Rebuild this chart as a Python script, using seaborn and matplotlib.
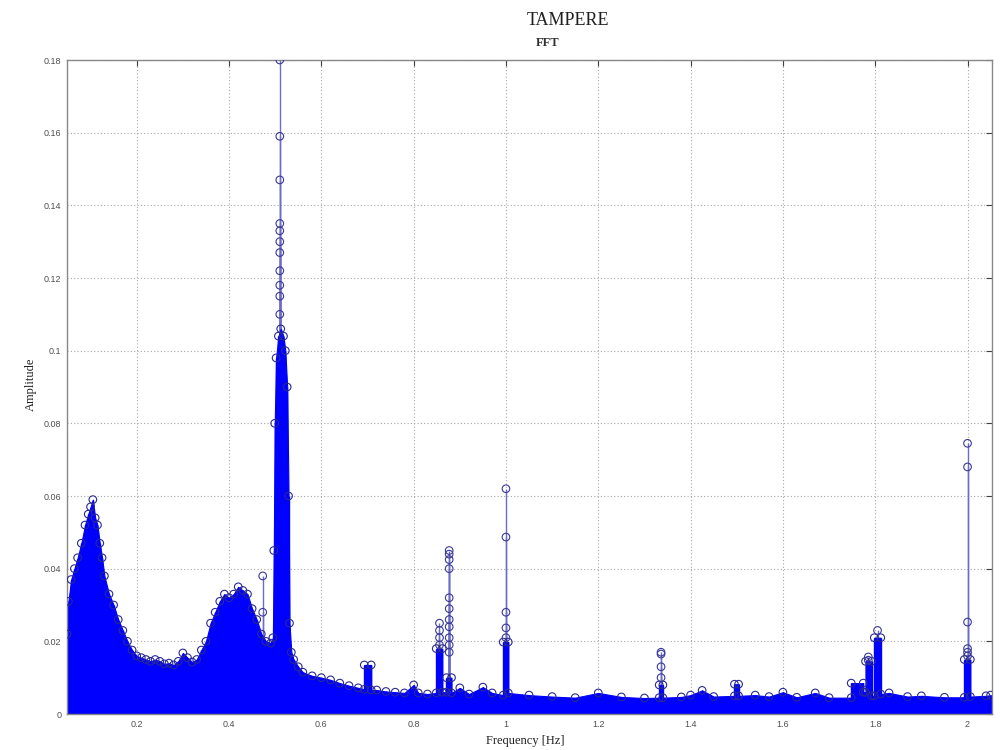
import matplotlib
matplotlib.use("Agg")
import matplotlib.pyplot as plt
import seaborn as sns
import pandas as pd

# ---- data (envelope of the dense FFT spectrum) ----
env_freq = [0.049, 0.052, 0.058, 0.065, 0.072, 0.080, 0.088, 0.095, 0.100, 0.105,
            0.110, 0.115, 0.120, 0.125, 0.130, 0.140, 0.150, 0.160, 0.170, 0.180,
            0.190, 0.200, 0.210, 0.220, 0.230, 0.240, 0.250, 0.260, 0.270, 0.280,
            0.290, 0.300, 0.310, 0.320, 0.330, 0.340, 0.350, 0.360, 0.370, 0.380,
            0.390, 0.400, 0.410, 0.420, 0.430, 0.440, 0.450, 0.460, 0.470, 0.480,
            0.490, 0.495, 0.497, 0.499, 0.502, 0.507, 0.512, 0.518, 0.522, 0.526,
            0.529, 0.531, 0.535, 0.540, 0.550, 0.560, 0.580, 0.600, 0.620, 0.640,
            0.660, 0.680, 0.693, 0.693, 0.708, 0.708, 0.720, 0.740, 0.760, 0.780,
            0.800, 0.810, 0.830, 0.849, 0.849, 0.862, 0.862, 0.871, 0.871, 0.882,
            0.882, 0.900, 0.920, 0.950, 0.970, 0.994, 0.994, 1.005, 1.005, 1.050,
            1.100, 1.150, 1.200, 1.250, 1.300, 1.332, 1.332, 1.340, 1.340, 1.380,
            1.400, 1.425, 1.450, 1.495, 1.495, 1.504, 1.504, 1.540, 1.570, 1.600,
            1.630, 1.670, 1.700, 1.748, 1.748, 1.774, 1.774, 1.779, 1.779, 1.792,
            1.792, 1.798, 1.798, 1.812, 1.812, 1.830, 1.870, 1.900, 1.950, 1.993,
            1.993, 2.006, 2.006, 2.040, 2.050]
env_amp = [0.022, 0.031, 0.037, 0.040, 0.043, 0.047, 0.052, 0.055, 0.057, 0.059,
           0.054, 0.052, 0.047, 0.043, 0.038, 0.033, 0.030, 0.026, 0.023, 0.020,
           0.0176, 0.016, 0.0155, 0.015, 0.0145, 0.015, 0.0145, 0.0138, 0.014, 0.0135,
           0.0145, 0.0168, 0.0155, 0.0143, 0.015, 0.0176, 0.020, 0.025, 0.028, 0.031,
           0.033, 0.032, 0.033, 0.035, 0.034, 0.033, 0.029, 0.026, 0.022, 0.020,
           0.0195, 0.021, 0.045, 0.080, 0.098, 0.104, 0.106, 0.104, 0.100, 0.090,
           0.060, 0.025, 0.017, 0.015, 0.013, 0.0115, 0.0105, 0.010, 0.0094, 0.0085,
           0.0078, 0.0072, 0.0068, 0.0135, 0.0135, 0.0066, 0.0066, 0.0062, 0.006, 0.0058,
           0.008, 0.0058, 0.0055, 0.0058, 0.018, 0.018, 0.006, 0.006, 0.010, 0.010,
           0.0058, 0.0072, 0.0055, 0.0074, 0.0058, 0.0052, 0.0198, 0.0198, 0.0058, 0.0052,
           0.0048, 0.0045, 0.0058, 0.0047, 0.0044, 0.0045, 0.008, 0.008, 0.0045, 0.0047,
           0.0052, 0.0065, 0.0048, 0.005, 0.0082, 0.0082, 0.005, 0.0052, 0.0048, 0.006,
           0.0046, 0.0058, 0.0045, 0.0045, 0.0085, 0.0085, 0.006, 0.006, 0.0145, 0.0145,
           0.005, 0.005, 0.021, 0.021, 0.0055, 0.0058, 0.0048, 0.005, 0.0046, 0.0046,
           0.015, 0.015, 0.0048, 0.005, 0.0052]

# isolated tall stems (circles stacked on single spectral lines)
spike_freq = [0.473, 0.473,
              0.510, 0.510, 0.510, 0.510, 0.510, 0.510, 0.510, 0.510, 0.510, 0.510, 0.510,
              0.856, 0.856, 0.856, 0.856,
              0.877, 0.877, 0.877, 0.877, 0.877, 0.877, 0.877, 0.877, 0.877, 0.877, 0.877,
              1.000, 1.000, 1.000, 1.000, 1.000,
              1.336, 1.336, 1.336, 1.336,
              1.785, 1.785, 1.805,
              2.000, 2.000, 2.000, 2.000, 2.000, 2.000]
spike_amp = [0.038, 0.028,
             0.180, 0.159, 0.147, 0.135, 0.133, 0.130, 0.127, 0.122, 0.118, 0.115, 0.110,
             0.025, 0.023, 0.021, 0.019,
             0.045, 0.044, 0.0425, 0.040, 0.032, 0.029, 0.026, 0.024, 0.021, 0.019, 0.017,
             0.062, 0.0487, 0.028, 0.0237, 0.021,
             0.017, 0.0165, 0.013, 0.010,
             0.0157, 0.0148, 0.023,
             0.0745, 0.068, 0.0253, 0.018, 0.017, 0.016]

x_ticks = [0.2, 0.4, 0.6, 0.8, 1.0, 1.2, 1.4, 1.6, 1.8, 2.0]
x_tick_labels = ["0.2", "0.4", "0.6", "0.8", "1", "1.2", "1.4", "1.6", "1.8", "2"]
y_ticks = [0, 0.02, 0.04, 0.06, 0.08, 0.10, 0.12, 0.14, 0.16, 0.18]
y_tick_labels = ["0", "0.02", "0.04", "0.06", "0.08", "0.1", "0.12", "0.14", "0.16", "0.18"]

title = "TAMPERE"
subtitle = "FFT"
x_label = "Frequency [Hz]"
y_label = "Amplitude"

# ---- drawing ----
sns.set_style("white")
plt.rcParams["font.family"] = ["Liberation Serif", "DejaVu Serif"]

env = pd.DataFrame({"freq": env_freq, "amp": env_amp})
spk = pd.DataFrame({"freq": spike_freq, "amp": spike_amp})

fig = plt.figure(figsize=(10, 7.5), dpi=100)
ax = fig.add_axes([0.067, 0.048, 0.925, 0.872])

BLUE = "#0000ff"
# stems of the isolated spectral lines
ax.vlines(spk["freq"], 0, spk["amp"], color="#6c6cc8", lw=1.0, zorder=1.5)
# dense spectrum body
ax.fill_between(env["freq"], 0, env["amp"], color=BLUE, lw=0.8, zorder=2)
ax.vlines(env["freq"], 0, env["amp"], color=BLUE, lw=1.0, zorder=2)

sns.scatterplot(data=env, x="freq", y="amp", marker="o", s=30, ax=ax,
                edgecolor="#2a2a90", linewidth=0.8, zorder=3, legend=False)
ax.collections[-1].set_facecolor("none")
sns.scatterplot(data=spk, x="freq", y="amp", marker="o", s=30, ax=ax,
                edgecolor="#3a3a98", linewidth=0.8, zorder=3, legend=False)
ax.collections[-1].set_facecolor("none")

ax.set_xlim(0.049, 2.053)
ax.set_ylim(0, 0.18)
ax.set_xticks(x_ticks)
ax.set_xticklabels(x_tick_labels, fontfamily="Liberation Sans", fontsize=6.5, color="#505050")
ax.set_yticks(y_ticks)
ax.set_yticklabels(y_tick_labels, fontfamily="Liberation Sans", fontsize=6.5, color="#505050")
ax.tick_params(direction="in", length=4, width=0.8, top=True, right=True,
               color="#404040", pad=4)
ax.grid(True, linestyle=(0, (1, 2)), color="#a8a8a8", lw=0.8)
ax.set_axisbelow(True)
for sp in ax.spines.values():
    sp.set_color("#888888")
    sp.set_linewidth(1.0)
ax.set_xlabel("")
ax.set_ylabel("")

fig.text(0.568, 0.973, title, ha="center", va="center", fontsize=13, color="#202020")
fig.text(0.548, 0.942, subtitle, ha="center", va="center", fontsize=9,
         fontweight="bold", color="#303030")
fig.text(0.525, 0.012, x_label, ha="center", va="center", fontsize=9, color="#202020")
fig.text(0.031, 0.487, y_label, ha="center", va="center", rotation=90, fontsize=9,
         color="#202020")

fig.savefig("out.png", dpi=100, facecolor="white")
